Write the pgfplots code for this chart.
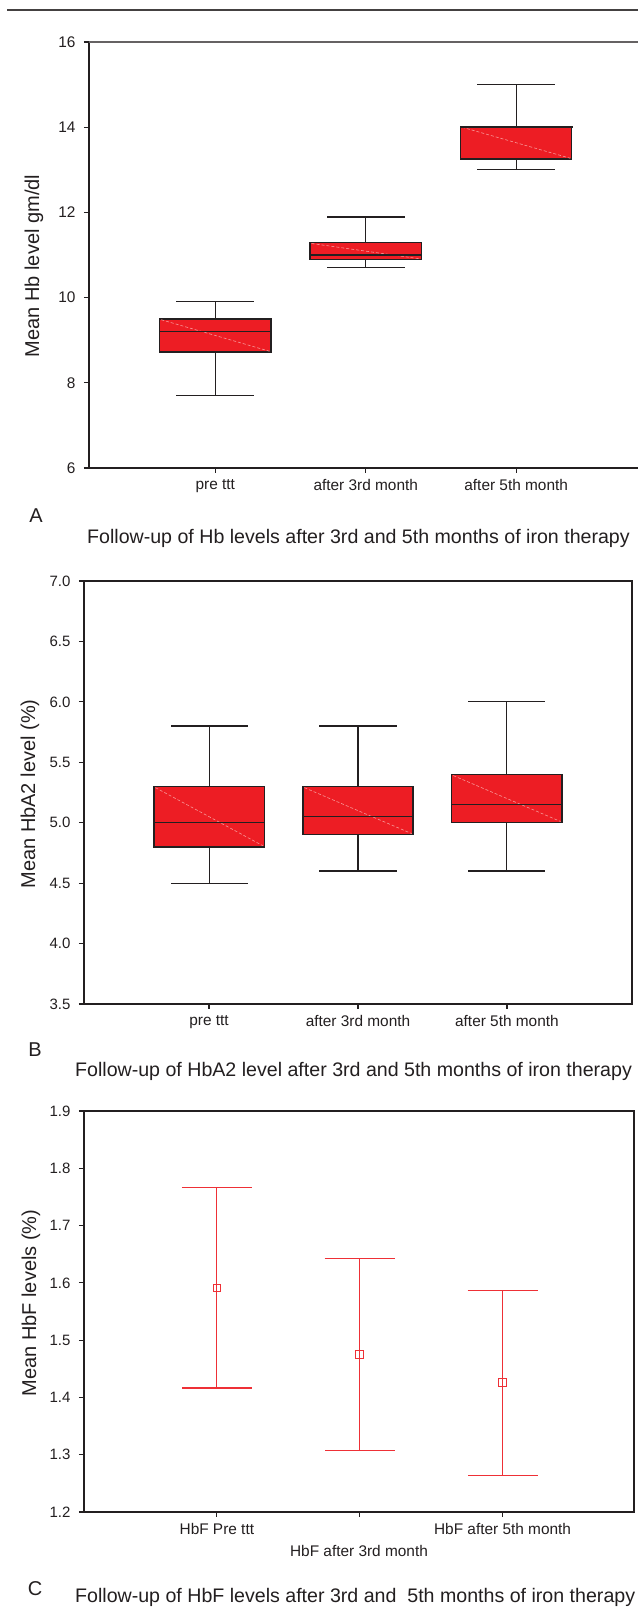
\documentclass[border=0pt]{standalone}
\usepackage{fontspec}
\setmainfont{Liberation Sans}
\usepackage{pgfplots}
\pgfplotsset{compat=1.18}
\definecolor{boxred}{RGB}{237,29,36}
\definecolor{errred}{RGB}{238,48,54}
\definecolor{diag}{RGB}{247,150,150}
\definecolor{ink}{RGB}{35,31,32}
\newcommand{\tickfont}{\fontsize{15.4}{17}\selectfont}
\newcommand{\numfont}{\fontsize{15}{17}\selectfont}
\newcommand{\labfont}{\fontsize{20}{22}\selectfont}
\newcommand{\capfont}{\fontsize{19.6}{22}\selectfont}
\newcommand{\letfont}{\fontsize{20}{22}\selectfont}
\pgfplotsset{
  refstyle/.style={
    scale only axis,
    anchor=south west,
    tick pos=left,
    tick align=outside,
    major tick length=5pt,
    axis line style={line width=1.6pt, ink},
    tick style={line width=1.2pt, ink},
    /pgf/number format/assume math mode=true,
    ticklabel style={ink},
    yticklabel style={font=\numfont, xshift=-5pt},
    xticklabel style={font=\tickfont, yshift=-3pt},
    xtick={1,2,3},
    clip=false,
  },
  wl/.style={ink, line width=1.15pt, line cap=rect},
  md/.style={ink, line width=1.4pt, line cap=rect},
  bx/.style={draw=ink, fill=boxred, line width=1.3pt, line cap=rect, line join=miter},
  dg/.style={diag, line width=0.6pt, densely dashed},
}
\begin{document}
\begin{tikzpicture}[x=1pt,y=1pt]
\useasboundingbox (0,0) rectangle (638,1614);
\fill[white] (0,0) rectangle (638,1614);
% top rule
\draw[line width=2.8pt, color=ink!85] (7,1604) -- (638,1604);

% ---------------- Panel A ----------------
\begin{axis}[refstyle,
  at={(89pt,1146pt)}, width=549pt, height=426pt,
  xmin=0.16, xmax=3.81, ymin=6, ymax=16,
  ytick={6,8,10,12,14,16},
  yticklabel style={font=\tickfont},
  xticklabels={pre ttt,after 3rd month,after 5th month},
  axis x line*=bottom, axis y line*=left,
]
% pre ttt
\addplot[wl] coordinates {(1,7.7) (1,8.72)};
\addplot[wl] coordinates {(1,9.5) (1,9.9)};
\addplot[wl] coordinates {(0.745,7.7) (1.255,7.7)};
\addplot[wl] coordinates {(0.745,9.9) (1.255,9.9)};
\addplot[bx] coordinates {(0.63,8.72) (1.37,8.72) (1.37,9.5) (0.63,9.5) (0.63,8.72)};
\addplot[dg] coordinates {(0.64,9.48) (1.36,8.74)};
\addplot[md] coordinates {(0.63,9.21) (1.37,9.21)};
% after 3rd month
\addplot[wl] coordinates {(2,10.7) (2,10.89)};
\addplot[wl] coordinates {(2,11.29) (2,11.89)};
\addplot[wl] coordinates {(1.745,10.7) (2.255,10.7)};
\addplot[wl] coordinates {(1.745,11.89) (2.255,11.89)};
\addplot[bx] coordinates {(1.63,10.89) (2.37,10.89) (2.37,11.29) (1.63,11.29) (1.63,10.89)};
\addplot[dg] coordinates {(1.64,11.27) (2.36,10.91)};
\addplot[md] coordinates {(1.63,11.0) (2.37,11.0)};
% after 5th month
\addplot[wl] coordinates {(3,13.0) (3,13.25)};
\addplot[wl] coordinates {(3,14.02) (3,15.0)};
\addplot[wl] coordinates {(2.745,13.0) (3.255,13.0)};
\addplot[wl] coordinates {(2.745,15.0) (3.255,15.0)};
\addplot[bx] coordinates {(2.63,13.25) (3.37,13.25) (3.37,14.02) (2.63,14.02) (2.63,13.25)};
\addplot[dg] coordinates {(2.64,14.0) (3.36,13.27)};
\addplot[md] coordinates {(2.63,14.0) (3.37,14.0)};
\draw[line width=1.1pt, ink!70] (rel axis cs:0,1) -- (rel axis cs:1,1);
\end{axis}
\node[rotate=90, font=\labfont, ink] at (34,1614-266) {Mean Hb level gm/dl};
\node[font=\letfont, ink] at (36,1614-516) {A};
\node[font=\capfont, ink, anchor=west, inner sep=0pt] at (87,1614-538) {Follow-up of Hb levels after 3rd and 5th months of iron therapy};

% ---------------- Panel B ----------------
\begin{axis}[refstyle,
  at={(84pt,610pt)}, width=548pt, height=423pt,
  xmin=0.16, xmax=3.84, ymin=3.5, ymax=7.0,
  ytick={3.5,4.0,4.5,5.0,5.5,6.0,6.5,7.0},
  yticklabel style={/pgf/number format/.cd, fixed, fixed zerofill, precision=1},
  xticklabels={pre ttt,after 3rd month,after 5th month},
]
% pre ttt
\addplot[wl] coordinates {(1,4.5) (1,4.8)};
\addplot[wl] coordinates {(1,5.3) (1,5.8)};
\addplot[wl] coordinates {(0.745,4.5) (1.255,4.5)};
\addplot[wl] coordinates {(0.745,5.8) (1.255,5.8)};
\addplot[bx] coordinates {(0.63,4.8) (1.37,4.8) (1.37,5.3) (0.63,5.3) (0.63,4.8)};
\addplot[dg] coordinates {(0.64,5.29) (1.36,4.81)};
\addplot[md] coordinates {(0.63,5.0) (1.37,5.0)};
% after 3rd month
\addplot[wl] coordinates {(2,4.6) (2,4.9)};
\addplot[wl] coordinates {(2,5.3) (2,5.8)};
\addplot[wl] coordinates {(1.745,4.6) (2.255,4.6)};
\addplot[wl] coordinates {(1.745,5.8) (2.255,5.8)};
\addplot[bx] coordinates {(1.63,4.9) (2.37,4.9) (2.37,5.3) (1.63,5.3) (1.63,4.9)};
\addplot[dg] coordinates {(1.64,5.29) (2.36,4.91)};
\addplot[md] coordinates {(1.63,5.05) (2.37,5.05)};
% after 5th month
\addplot[wl] coordinates {(3,4.6) (3,5.0)};
\addplot[wl] coordinates {(3,5.4) (3,6.0)};
\addplot[wl] coordinates {(2.745,4.6) (3.255,4.6)};
\addplot[wl] coordinates {(2.745,6.0) (3.255,6.0)};
\addplot[bx] coordinates {(2.63,5.0) (3.37,5.0) (3.37,5.4) (2.63,5.4) (2.63,5.0)};
\addplot[dg] coordinates {(2.64,5.39) (3.36,5.01)};
\addplot[md] coordinates {(2.63,5.15) (3.37,5.15)};
\end{axis}
\node[rotate=90, font=\labfont, ink] at (30,1614-794) {Mean HbA2 level (\%)};
\node[font=\letfont, ink] at (35,1614-1050) {B};
\node[font=\capfont, ink, anchor=west, inner sep=0pt] at (75,1614-1071) {Follow-up of HbA2 level after 3rd and 5th months of iron therapy};

% ---------------- Panel C ----------------
\begin{axis}[refstyle,
  at={(84pt,102pt)}, width=550pt, height=401pt,
  xmin=0.07, xmax=3.92, ymin=1.2, ymax=1.9,
  ytick={1.2,1.3,1.4,1.5,1.6,1.7,1.8,1.9},
  yticklabel style={/pgf/number format/.cd, fixed, fixed zerofill, precision=1},
  xticklabels={HbF Pre ttt,,HbF after 5th month},
  xlabel={HbF after 3rd month},
  xlabel style={font=\tickfont, ink, yshift=-4pt},
]
\addplot[errred, only marks, mark=square, mark size=3.8pt, line width=1.1pt,
  error bars/.cd, y dir=both, y explicit, error mark=|,
  error bar style={line width=1.15pt, errred},
  error mark options={mark size=35pt, line width=1.15pt, errred}]
  coordinates {
  (1,1.591) += (0,0.175) -= (0,0.1745)
  (2,1.475) += (0,0.168) -= (0,0.167)
  (3,1.426) += (0,0.1605) -= (0,0.163)
  };
\end{axis}
\node[rotate=90, font=\labfont, ink] at (31,1614-1303) {Mean HbF levels (\%)};
\node[font=\letfont, ink] at (35,1614-1589) {C};
\node[font=\capfont, ink, anchor=west, inner sep=0pt] at (75,1614-1597) {Follow-up of HbF levels after 3rd and \ 5th months of iron therapy};
\end{tikzpicture}
\end{document}
